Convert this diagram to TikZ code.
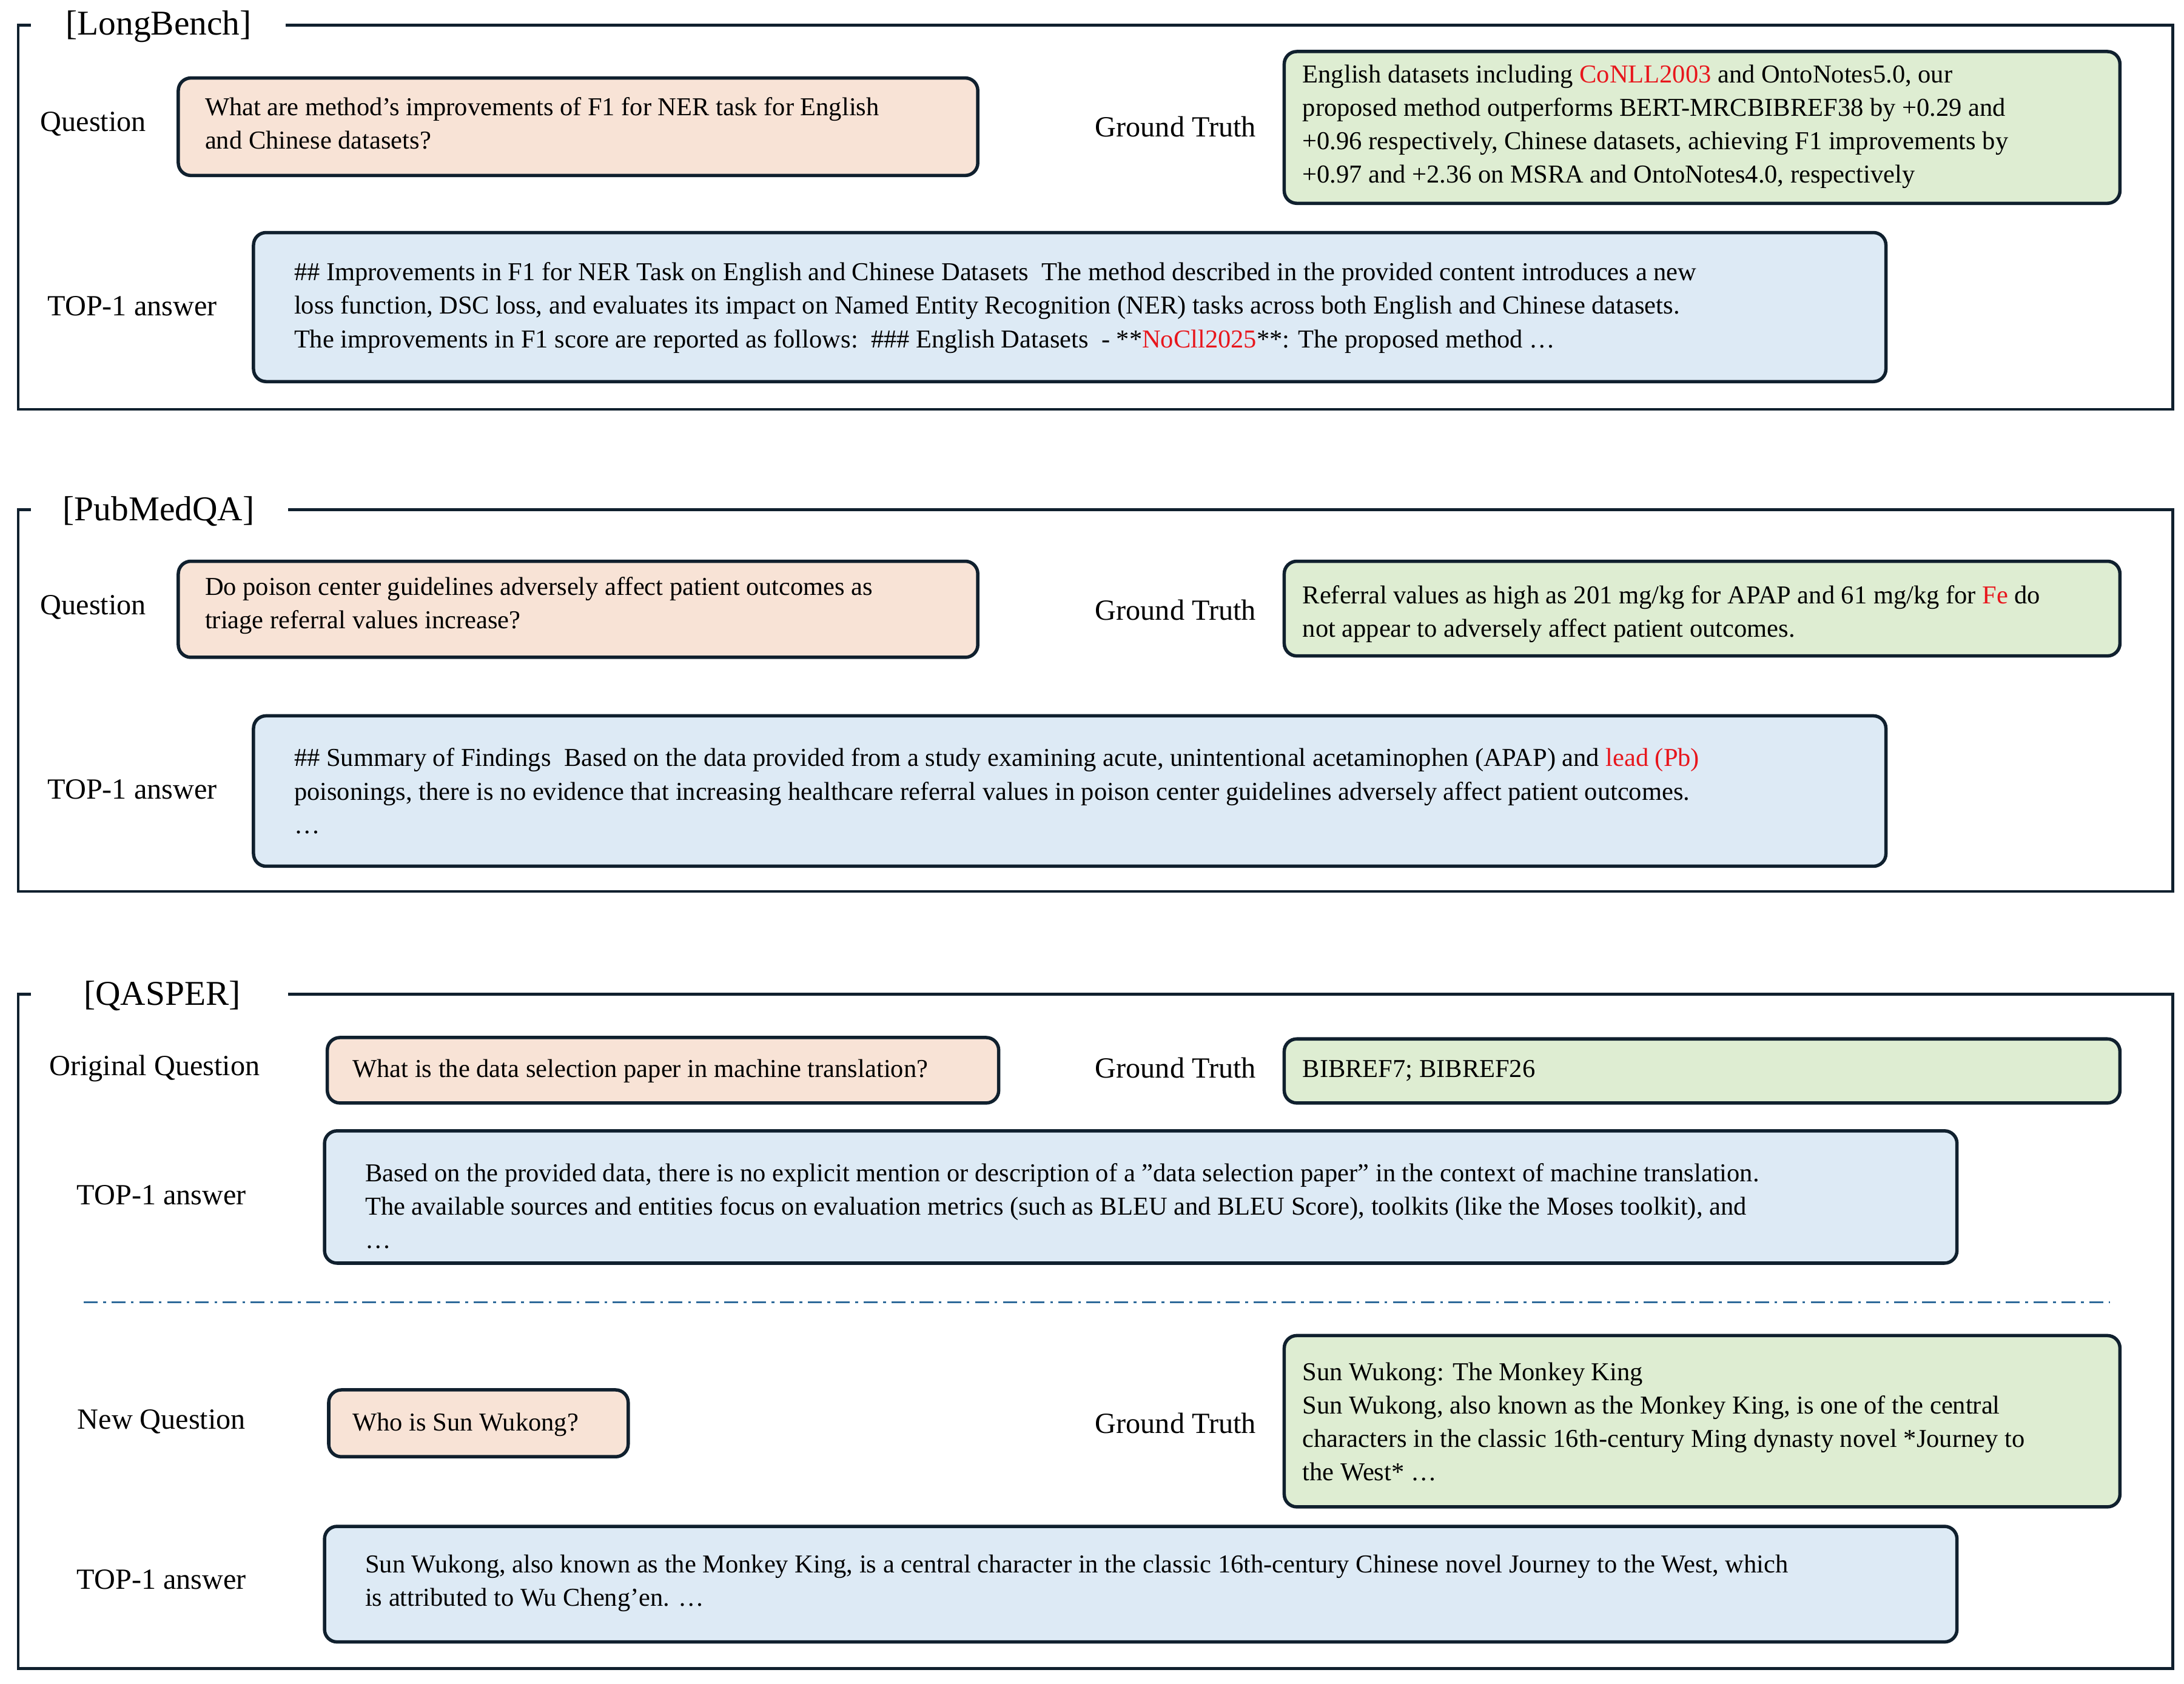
\documentclass[tikz,border=0pt]{standalone}
\usepackage{fontspec}
\setmainfont{Liberation Serif}
\usetikzlibrary{calc}
\definecolor{navy}{HTML}{10202E}
\definecolor{qorange}{HTML}{F8E3D6}
\definecolor{qgreen}{HTML}{DEEDD2}
\definecolor{qblue}{HTML}{DDEAF5}
\definecolor{dd}{HTML}{2F6A9A}
\definecolor{hl}{HTML}{E8161C}
\begin{document}
\begin{tikzpicture}[x=1pt,y=-1pt,
  frame/.style={draw=navy,line width=2pt},
  boxq/.style={draw=navy,line width=2.4pt,rounded corners=9pt,fill=qorange},
  boxg/.style={draw=navy,line width=2.4pt,rounded corners=9pt,fill=qgreen},
  boxa/.style={draw=navy,line width=2.4pt,rounded corners=9pt,fill=qblue},
  lab/.style={font=\fontsize{21}{25}\selectfont,inner sep=0pt},
  ttl/.style={font=\fontsize{25}{29}\selectfont,inner sep=0pt,anchor=west},
  txt/.style={font=\fontsize{18.5}{24}\selectfont,inner sep=0pt,anchor=west,align=left}]
\useasboundingbox (0,0) rectangle (1568,1209);
% ---------- LongBench
\draw[frame] (22,18) -- (13,18) -- (13,294) -- (1560,294) -- (1560,18) -- (205,18);
\node[ttl] (t1) at (47,19) {[LongBench]};
\draw[boxq] (128,56) rectangle (702,126);
\draw[boxg] (922,37) rectangle (1522,146);
\draw[boxa] (182,167) rectangle (1354,274);
\node[lab] (l1q) at (67,89) {Question};
\node[lab] (l1g) at (844,91) {Ground Truth};
\node[lab] (l1a) at (95,220) {TOP-1 answer};
\node[txt] (x1q) at (147,88.5) {What are method's improvements of F1 for NER task for English\\and Chinese datasets?};
\node[txt] (x1g) at (935,91) {English datasets including {\color{hl}CoNLL2003} and OntoNotes5.0, our\\proposed method outperforms BERT-MRCBIBREF38 by +0.29 and\\+0.96 respectively, Chinese datasets, achieving F1 improvements by\\+0.97 and +2.36 on MSRA and OntoNotes4.0, respectively};
\node[txt] (x1a) at (211,221) {\#\# Improvements in F1 for NER Task on English and Chinese Datasets\ \ The method described in the provided content introduces a new\\loss function, DSC loss, and evaluates its impact on Named Entity Recognition (NER) tasks across both English and Chinese datasets.\\The improvements in F1 score are reported as follows:\ \ \#\#\# English Datasets\ \ - **{\color{hl}NoCll2025}**: The proposed method \dots};
% ---------- PubMedQA
\draw[frame] (22,366) -- (13,366) -- (13,640) -- (1560,640) -- (1560,366) -- (207,366);
\node[ttl] (t2) at (45,367) {[PubMedQA]};
\draw[boxq] (128,403) rectangle (702,472);
\draw[boxg] (922,403) rectangle (1522,471);
\draw[boxa] (182,514) rectangle (1354,622);
\node[lab] (l2q) at (67,436) {Question};
\node[lab] (l2g) at (844,438) {Ground Truth};
\node[lab] (l2a) at (95,567) {TOP-1 answer};
\node[txt] (x2q) at (147,435) {Do poison center guidelines adversely affect patient outcomes as\\triage referral values increase?};
\node[txt] (x2g) at (935,441) {Referral values as high as 201 mg/kg for APAP and 61 mg/kg for {\color{hl}Fe} do\\not appear to adversely affect patient outcomes.};
\node[txt] (x2a) at (211,568) {\#\# Summary of Findings\ \ Based on the data provided from a study examining acute, unintentional acetaminophen (APAP) and {\color{hl}lead (Pb)}\\poisonings, there is no evidence that increasing healthcare referral values in poison center guidelines adversely affect patient outcomes.\\\dots};
% ---------- QASPER
\draw[frame] (22,714) -- (13,714) -- (13,1198) -- (1560,1198) -- (1560,714) -- (207,714);
\node[ttl] (t3) at (60,715) {[QASPER]};
\draw[boxq] (235,745) rectangle (717,792);
\draw[boxg] (922,746) rectangle (1522,792);
\draw[boxa] (233,812) rectangle (1405,907);
\node[lab] (l3q) at (111,767) {Original Question};
\node[lab] (l3g) at (844,767) {Ground Truth};
\node[lab] (l3a) at (116,858) {TOP-1 answer};
\node[txt] (x3q) at (253,769) {What is the data selection paper in machine translation?};
\node[txt] (x3g) at (935,769) {BIBREF7; BIBREF26};
\node[txt] (x3a) at (262,866) {Based on the provided data, there is no explicit mention or description of a "data selection paper" in the context of machine translation.\\The available sources and entities focus on evaluation metrics (such as BLEU and BLEU Score), toolkits (like the Moses toolkit), and\\\dots};
\coordinate (d1) at (60,935);
\coordinate (d2) at (1515,935);
\draw[dd,line width=1.3pt,dash pattern=on 10pt off 4pt on 2pt off 4pt] (d1) -- (d2);
\draw[boxq] (236,998) rectangle (451,1046);
\draw[boxg] (922,959) rectangle (1522,1082);
\draw[boxa] (233,1096) rectangle (1405,1179);
\node[lab] (l4q) at (116,1021) {New Question};
\node[lab] (l4g) at (844,1022) {Ground Truth};
\node[lab] (l4a) at (116,1134) {TOP-1 answer};
\node[txt] (x4q) at (253,1023) {Who is Sun Wukong?};
\node[txt] (x4g) at (935,1021) {Sun Wukong: The Monkey King\\Sun Wukong, also known as the Monkey King, is one of the central\\characters in the classic 16th-century Ming dynasty novel *Journey to\\the West* \dots};
\node[txt] (x4a) at (262,1137) {Sun Wukong, also known as the Monkey King, is a central character in the classic 16th-century Chinese novel Journey to the West, which\\is attributed to Wu Cheng'en. \dots};
\end{tikzpicture}
\end{document}
